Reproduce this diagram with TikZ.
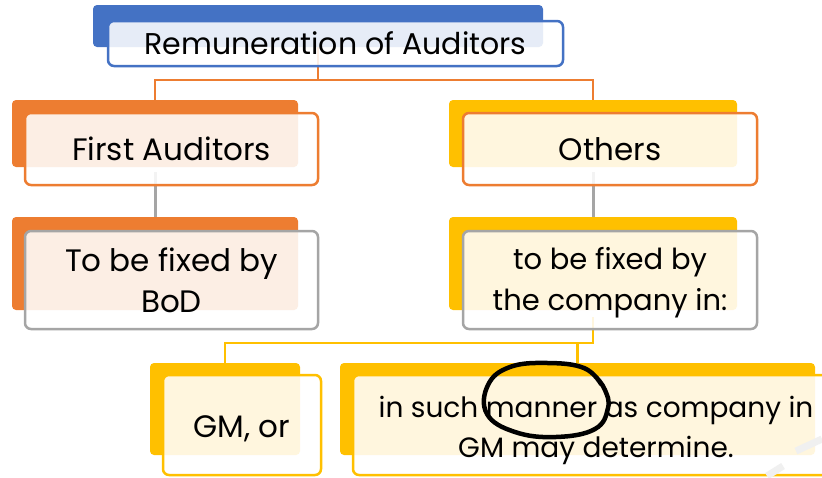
\documentclass[tikz,border=0pt]{standalone}
\usepackage{fontspec}
\setmainfont{Poppins}
\usetikzlibrary{backgrounds}
\definecolor{cblue}{HTML}{4472C4}
\definecolor{corange}{HTML}{ED7D31}
\definecolor{cyellow}{HTML}{FFC000}
\definecolor{cgray}{HTML}{A5A5A5}
\tikzset{
  backbox/.style={rectangle, rounded corners=4pt, inner sep=0pt, fill=#1},
  frontbox/.style={rectangle, rounded corners=6pt, inner sep=0pt, draw=#1, line width=2.5pt,
     fill=white, fill opacity=0.87},
  txt/.style={align=center, inner sep=0pt, font=\fontsize{31}{41}\selectfont},
  conn/.style={draw=#1, line width=2.5pt},
}
\begin{document}
\begin{tikzpicture}[x=1pt,y=-1pt]
\useasboundingbox (0,0) rectangle (822,477);
\clip (0,0) rectangle (822,477);
% back boxes
\node[backbox=cblue, minimum width=450pt, minimum height=42pt] (topB) at (318,26) {};
\node[backbox=corange, minimum width=286pt, minimum height=67pt] (firstB) at (155,133.5) {};
\node[backbox=cyellow, minimum width=288pt, minimum height=67pt] (othB) at (593,133.5) {};
\node[backbox=corange, minimum width=286pt, minimum height=93pt] (bodB) at (155,263.5) {};
\node[backbox=cyellow, minimum width=288pt, minimum height=93pt] (compB) at (593,263.5) {};
\node[backbox=cyellow, minimum width=150pt, minimum height=92pt] (gmB) at (225,409) {};
\node[backbox=cyellow, minimum width=475pt, minimum height=92pt] (manB) at (577.5,409) {};
% front boxes
\node[frontbox=cblue, minimum width=455pt, minimum height=45pt] (top) at (335.5,43.5) {};
\node[frontbox=corange, minimum width=293pt, minimum height=72pt] (first) at (171.5,149) {};
\node[frontbox=corange, minimum width=294pt, minimum height=72pt] (oth) at (610,149) {};
\node[frontbox=cgray, minimum width=293pt, minimum height=98pt] (bod) at (171.5,280) {};
\node[frontbox=cgray, minimum width=294pt, minimum height=98pt] (comp) at (610,280) {};
\node[frontbox=cyellow, minimum width=158pt, minimum height=100pt] (gm) at (242,425) {};
\node[frontbox=cyellow, minimum width=482pt, minimum height=100pt] (man) at (594,425) {};
% texts
\node[txt, font=\fontsize{30}{41}\selectfont] (topT) at (335.5,43) {Remuneration of Auditors};
\node[txt] (firstT) at (171.5,149) {First Auditors};
\node[txt] (othT) at (610,149) {Others};
\node[txt] (bodT) at (171.5,280) {To be fixed by\\BoD};
\node[txt, font=\fontsize{29}{41}\selectfont] (compT) at (610,283) {to be fixed by\\the company in:};
\node[txt] (gmT) at (242,429) {GM, or};
\node[txt, font=\fontsize{28}{40}\selectfont] (manT) at (596,430) {in such manner as company in\\GM may determine.};
% connectors
\coordinate (j1) at (318,80);
\coordinate (j2) at (593,343);
\begin{scope}[on background layer]
\draw[conn=corange] (topB.south) -- (j1) -| (firstB.north);
\draw[conn=corange] (j1) -| (othB.north);
\draw[conn=cgray, line width=3pt] ([yshift=-5pt]firstB.south) -- (bodB.north);
\draw[conn=cgray, line width=3pt] ([yshift=-5pt]othB.south) -- (compB.north);
\draw[conn=cyellow] ([yshift=-7pt]compB.south) -- (j2) -| (gmB.north);
\draw[conn=cyellow] (j2) -| (manB.north);
\end{scope}
% hand-drawn circle
\draw[line width=4.5pt, line cap=round, line join=round] plot[smooth, tension=0.7] coordinates {(601,384) (584,368) (548,363) (510,367) (488,385) (487,414) (515,432) (556,437) (595,429) (608,408) (605,390) (596,377)};
% watermark fragment
\draw[gray!12, line width=7pt] (767,476) -- (783,466);
\draw[gray!12, line width=7pt] (796,451) -- (822,439);
\end{tikzpicture}
\end{document}
